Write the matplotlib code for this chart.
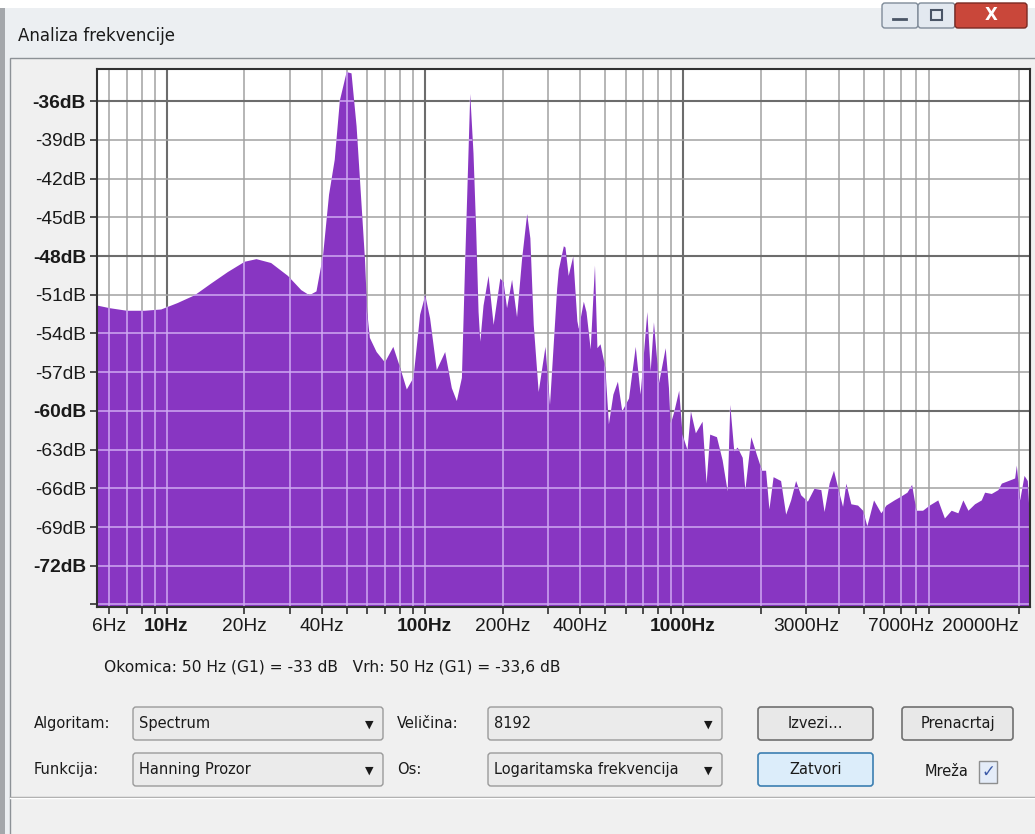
import matplotlib
matplotlib.use("Agg")
import matplotlib.pyplot as plt
from matplotlib.patches import FancyBboxPatch
from matplotlib.lines import Line2D
from matplotlib.transforms import Affine2D
from matplotlib.ticker import FixedLocator, NullFormatter

# spectrum (Hz, dB)
freq_hz = [5.38, 6.0, 7.0, 8.2, 9.5, 11.0, 12.8, 14.8, 17.2, 20.0, 22.2, 25.3, 29.4,
           33.1, 35.6, 37.9, 40.2, 42.4, 44.6, 46.7, 49.6, 51.8, 54.2, 56.7, 58.4,
           59.6, 61.0, 64.8, 69.8, 75.2, 79.9, 84.8, 90.0, 95.5, 100, 104.4, 110.8,
           119.4, 126.7, 132.5, 138.6, 142.8, 145.7, 149.3, 153.7, 157.5, 160.8,
           163.3, 168.1, 175.8, 183.9, 195.2, 201, 207.3, 216.8, 226.6, 237, 248,
           255.2, 263, 274.8, 292, 304, 324, 329, 344, 349, 359, 374, 388, 393, 411,
           421, 437, 454, 464, 477, 498, 514, 535, 557, 579, 615, 653, 682, 724, 746,
           768, 804, 853, 878, 891, 919, 962, 991, 1036, 1068, 1116, 1185, 1228,
           1268, 1347, 1417, 1482, 1517, 1572, 1620, 1695, 1735, 1830, 1918, 2014,
           2087, 2150, 2232, 2386, 2496, 2610, 2728, 2853, 3030, 3213, 3416, 3515,
           3678, 3824, 3964, 4146, 4270, 4464, 4740, 4957, 5149, 5465, 5834, 6102,
           6563, 6975, 7361, 7673, 7980, 8462, 8985, 9691, 10280, 10920, 11590,
           12120, 12680, 13450, 14280, 14710, 15610, 16570, 17080, 18130, 19230,
           19520, 20110, 20910, 21530, 22000]
level_db = [-51.8, -52.0, -52.2, -52.2, -52.1, -51.6, -51.0, -50.1, -49.2, -48.4, -48.2,
            -48.5, -49.5, -50.6, -51.0, -50.7, -47.9, -43.2, -40.5, -35.9, -33.7, -33.8,
            -37.9, -44.1, -48.2, -52.3, -54.3, -55.4, -56.2, -55.0, -56.6, -58.3, -57.4,
            -52.5, -51.0, -52.8, -56.8, -55.4, -58.2, -59.2, -57.4, -48.2, -42.5, -35.4,
            -40.0, -46.1, -52.3, -54.6, -51.8, -49.5, -53.3, -49.7, -50.0, -52.0, -49.8,
            -52.7, -48.2, -44.7, -46.6, -53.3, -58.5, -55.0, -59.5, -50.5, -49.0, -47.2,
            -47.3, -49.5, -48.0, -53.0, -53.6, -51.5, -52.3, -55.2, -48.7, -55.1, -54.8,
            -56.6, -61.0, -58.7, -57.7, -60.0, -59.0, -55.0, -58.7, -52.3, -56.9, -53.1,
            -57.8, -55.1, -58.2, -61.0, -60.1, -58.4, -61.8, -63.0, -60.0, -61.7, -60.8,
            -65.6, -61.8, -62.0, -63.8, -66.2, -59.5, -63.1, -62.8, -63.6, -66.1, -62.0,
            -63.3, -64.6, -64.6, -67.6, -65.1, -65.4, -68.0, -66.9, -65.4, -66.5, -67.0,
            -66.0, -66.1, -67.8, -65.6, -64.6, -65.9, -67.4, -65.6, -67.2, -67.3, -67.7,
            -68.9, -66.9, -67.9, -67.3, -66.9, -66.6, -66.3, -65.7, -67.7, -67.7, -67.3,
            -66.9, -68.3, -67.7, -67.9, -66.9, -67.7, -67.2, -66.9, -66.3, -66.4, -66.1,
            -65.6, -65.4, -65.2, -64.2, -66.9, -65.0, -65.4, -68.9]

grid_hz = [6, 7, 8, 9, 10, 20, 30, 40, 50, 60, 70, 80, 90, 100, 200, 300, 400, 500,
           600, 700, 800, 900, 1000, 2000, 3000, 4000, 5000, 6000, 7000, 8000, 9000, 20000]
major_hz = [10, 100, 1000]
label_hz = [6, 10, 20, 40, 100, 200, 400, 1000, 3000, 7000, 20000]
db_ticks = [-36, -39, -42, -45, -48, -51, -54, -57, -60, -63, -66, -69, -72, -75]
major_db = [-36, -48, -60, -72]

PURPLE = '#8836c2'
W, H = 1035, 834

fig = plt.figure(figsize=(W / 100, H / 100), dpi=100)
fig.patch.set_facecolor('white')
# pixel coords, origin top-left
pix = Affine2D().scale(1 / W, -1 / H).translate(0, 1) + fig.transFigure


def rect(x0, y0, x1, y1, fc, ec='none', lw=1, r=0, z=1):
    style = 'round,pad=0,rounding_size=%g' % r if r else 'square,pad=0'
    fig.patches.append(FancyBboxPatch((x0, y0), x1 - x0, y1 - y0, boxstyle=style,
                                      fc=fc, ec=ec, lw=lw, transform=pix, zorder=z))


def hline(x0, x1, y, c, lw=1):
    fig.lines.append(Line2D([x0, x1], [y, y], color=c, lw=lw, transform=pix, zorder=2))


def label(x, y, s, size=10.5, ha='left', color='#1a1a1a', **kw):
    fig.text(x, y, s, transform=pix, ha=ha, va='center', fontsize=size,
             family='DejaVu Sans', color=color, zorder=4, **kw)


# window frame / title bar
rect(0, 8, W, H, '#eceff2', z=0)
rect(0, 8, 5, H, '#a4a7ab', z=0)
rect(10, 58, W + 2, H + 2, '#f0f0f0', ec='#8c9196', z=0)
label(18, 36, 'Analiza frekvencije', size=12)

# caption buttons
rect(882, 3, 918, 28, '#e3e9f0', ec='#7f8b99', r=3)
rect(918, 3, 955, 28, '#e3e9f0', ec='#7f8b99', r=3)
rect(955, 3, 1027, 28, '#c9473a', ec='#7a2a22', r=3)
hline(893, 906, 19, '#4a5566', lw=2)
rect(931, 10, 942, 20, 'none', ec='#4a5566', lw=1.5)
label(991, 15, 'X', size=12, ha='center', color='white', fontweight='bold')

# plot
ax = fig.add_axes([97 / W, 1 - 607 / H, (1030 - 97) / W, (607 - 69) / H])
ax.set_zorder(5)
ax.set_xscale('log')
ax.set_xlim(5.38, 22050)
ax.set_ylim(-75.2, -33.5)
ax.set_facecolor('white')

for f in grid_hz:
    major = f in major_hz
    ax.axvline(f, color='#6c6c6c' if major else '#a2a2a2', lw=1.5 if major else 1.1, zorder=1)
for d in db_ticks:
    major = d in major_db
    ax.axhline(d, color='#6c6c6c' if major else '#a2a2a2', lw=1.5 if major else 1.1, zorder=1)

fill = ax.fill_between(freq_hz, level_db, -80, color=PURPLE, lw=0, zorder=2)
clip = fill.get_paths()[0]
# grid shows light where it crosses the filled spectrum
for f in grid_hz:
    ln = ax.axvline(f, color='#cfaaf2', lw=1.1, zorder=3)
    ln.set_clip_path(clip, ax.transData)
for d in db_ticks:
    ln = ax.axhline(d, color='#cfaaf2', lw=1.1, zorder=3)
    ln.set_clip_path(clip, ax.transData)

for s in ax.spines.values():
    s.set_color('#303030')
    s.set_linewidth(1.5)
    s.set_zorder(5)

ax.set_yticks(db_ticks)
ax.set_yticklabels(['%ddB' % d if d != -75 else '' for d in db_ticks])
ax.set_xticks(grid_hz)
ax.set_xticklabels(['%dHz' % f if f in label_hz else '' for f in grid_hz])
ax.xaxis.set_minor_locator(FixedLocator(major_hz))
ax.xaxis.set_minor_formatter(NullFormatter())
ax.tick_params(axis='both', which='major', labelsize=13.8, colors='#303030',
               labelcolor='#1a1a1a', length=5, width=1.2, pad=3)
ax.tick_params(axis='x', which='minor', length=9, width=1.4, colors='#303030')
for t in ax.get_xticklabels():
    t.set_family('Liberation Sans')
    if t.get_text() in ['%dHz' % f for f in major_hz]:
        t.set_fontweight('bold')
    if t.get_text() == '20000Hz':
        t.set_ha('right')
for t in ax.get_yticklabels():
    t.set_family('Liberation Sans')
    if t.get_text() in ['%ddB' % d for d in major_db]:
        t.set_fontweight('bold')

label(104, 667, 'Okomica: 50 Hz (G1) = -33 dB   Vrh: 50 Hz (G1) = -33,6 dB', size=11.2)

# controls
label(34, 724, 'Algoritam:')
label(34, 770, 'Funkcija:')
label(397, 724, 'Veličina:')
label(397, 770, 'Os:')
for x0, y0, x1, y1, txt in [(133, 707, 383, 740, 'Spectrum'),
                            (133, 753, 383, 786, 'Hanning Prozor'),
                            (488, 707, 722, 740, '8192'),
                            (488, 753, 722, 786, 'Logaritamska frekvencija')]:
    rect(x0, y0, x1, y1, '#ebebeb', ec='#9a9a9a', r=3)
    label(x0 + 6, (y0 + y1) / 2, txt)
    label(x1 - 14, (y0 + y1) / 2 + 1, '▼', size=8, ha='center')
for x0, y0, x1, y1, txt, fc, ec in [(758, 707, 873, 740, 'Izvezi...', '#e8e8e8', '#707070'),
                                    (902, 707, 1013, 740, 'Prenacrtaj', '#e8e8e8', '#707070'),
                                    (758, 753, 873, 786, 'Zatvori', '#dcedfa', '#3c7fb1')]:
    rect(x0, y0, x1, y1, fc, ec=ec, r=3, lw=1.2)
    label((x0 + x1) / 2, (y0 + y1) / 2, txt, ha='center')
label(925, 772, 'Mreža')
rect(979, 761, 997, 783, '#e4ecf8', ec='#8e8f8f')
label(988, 772, '✓', size=12, ha='center', color='#3b5aa8', fontweight='bold')

hline(10, W, 797, '#a0a0a0')
hline(10, W, 798, 'white')

fig.savefig('out.png', dpi=100, facecolor=fig.get_facecolor())
